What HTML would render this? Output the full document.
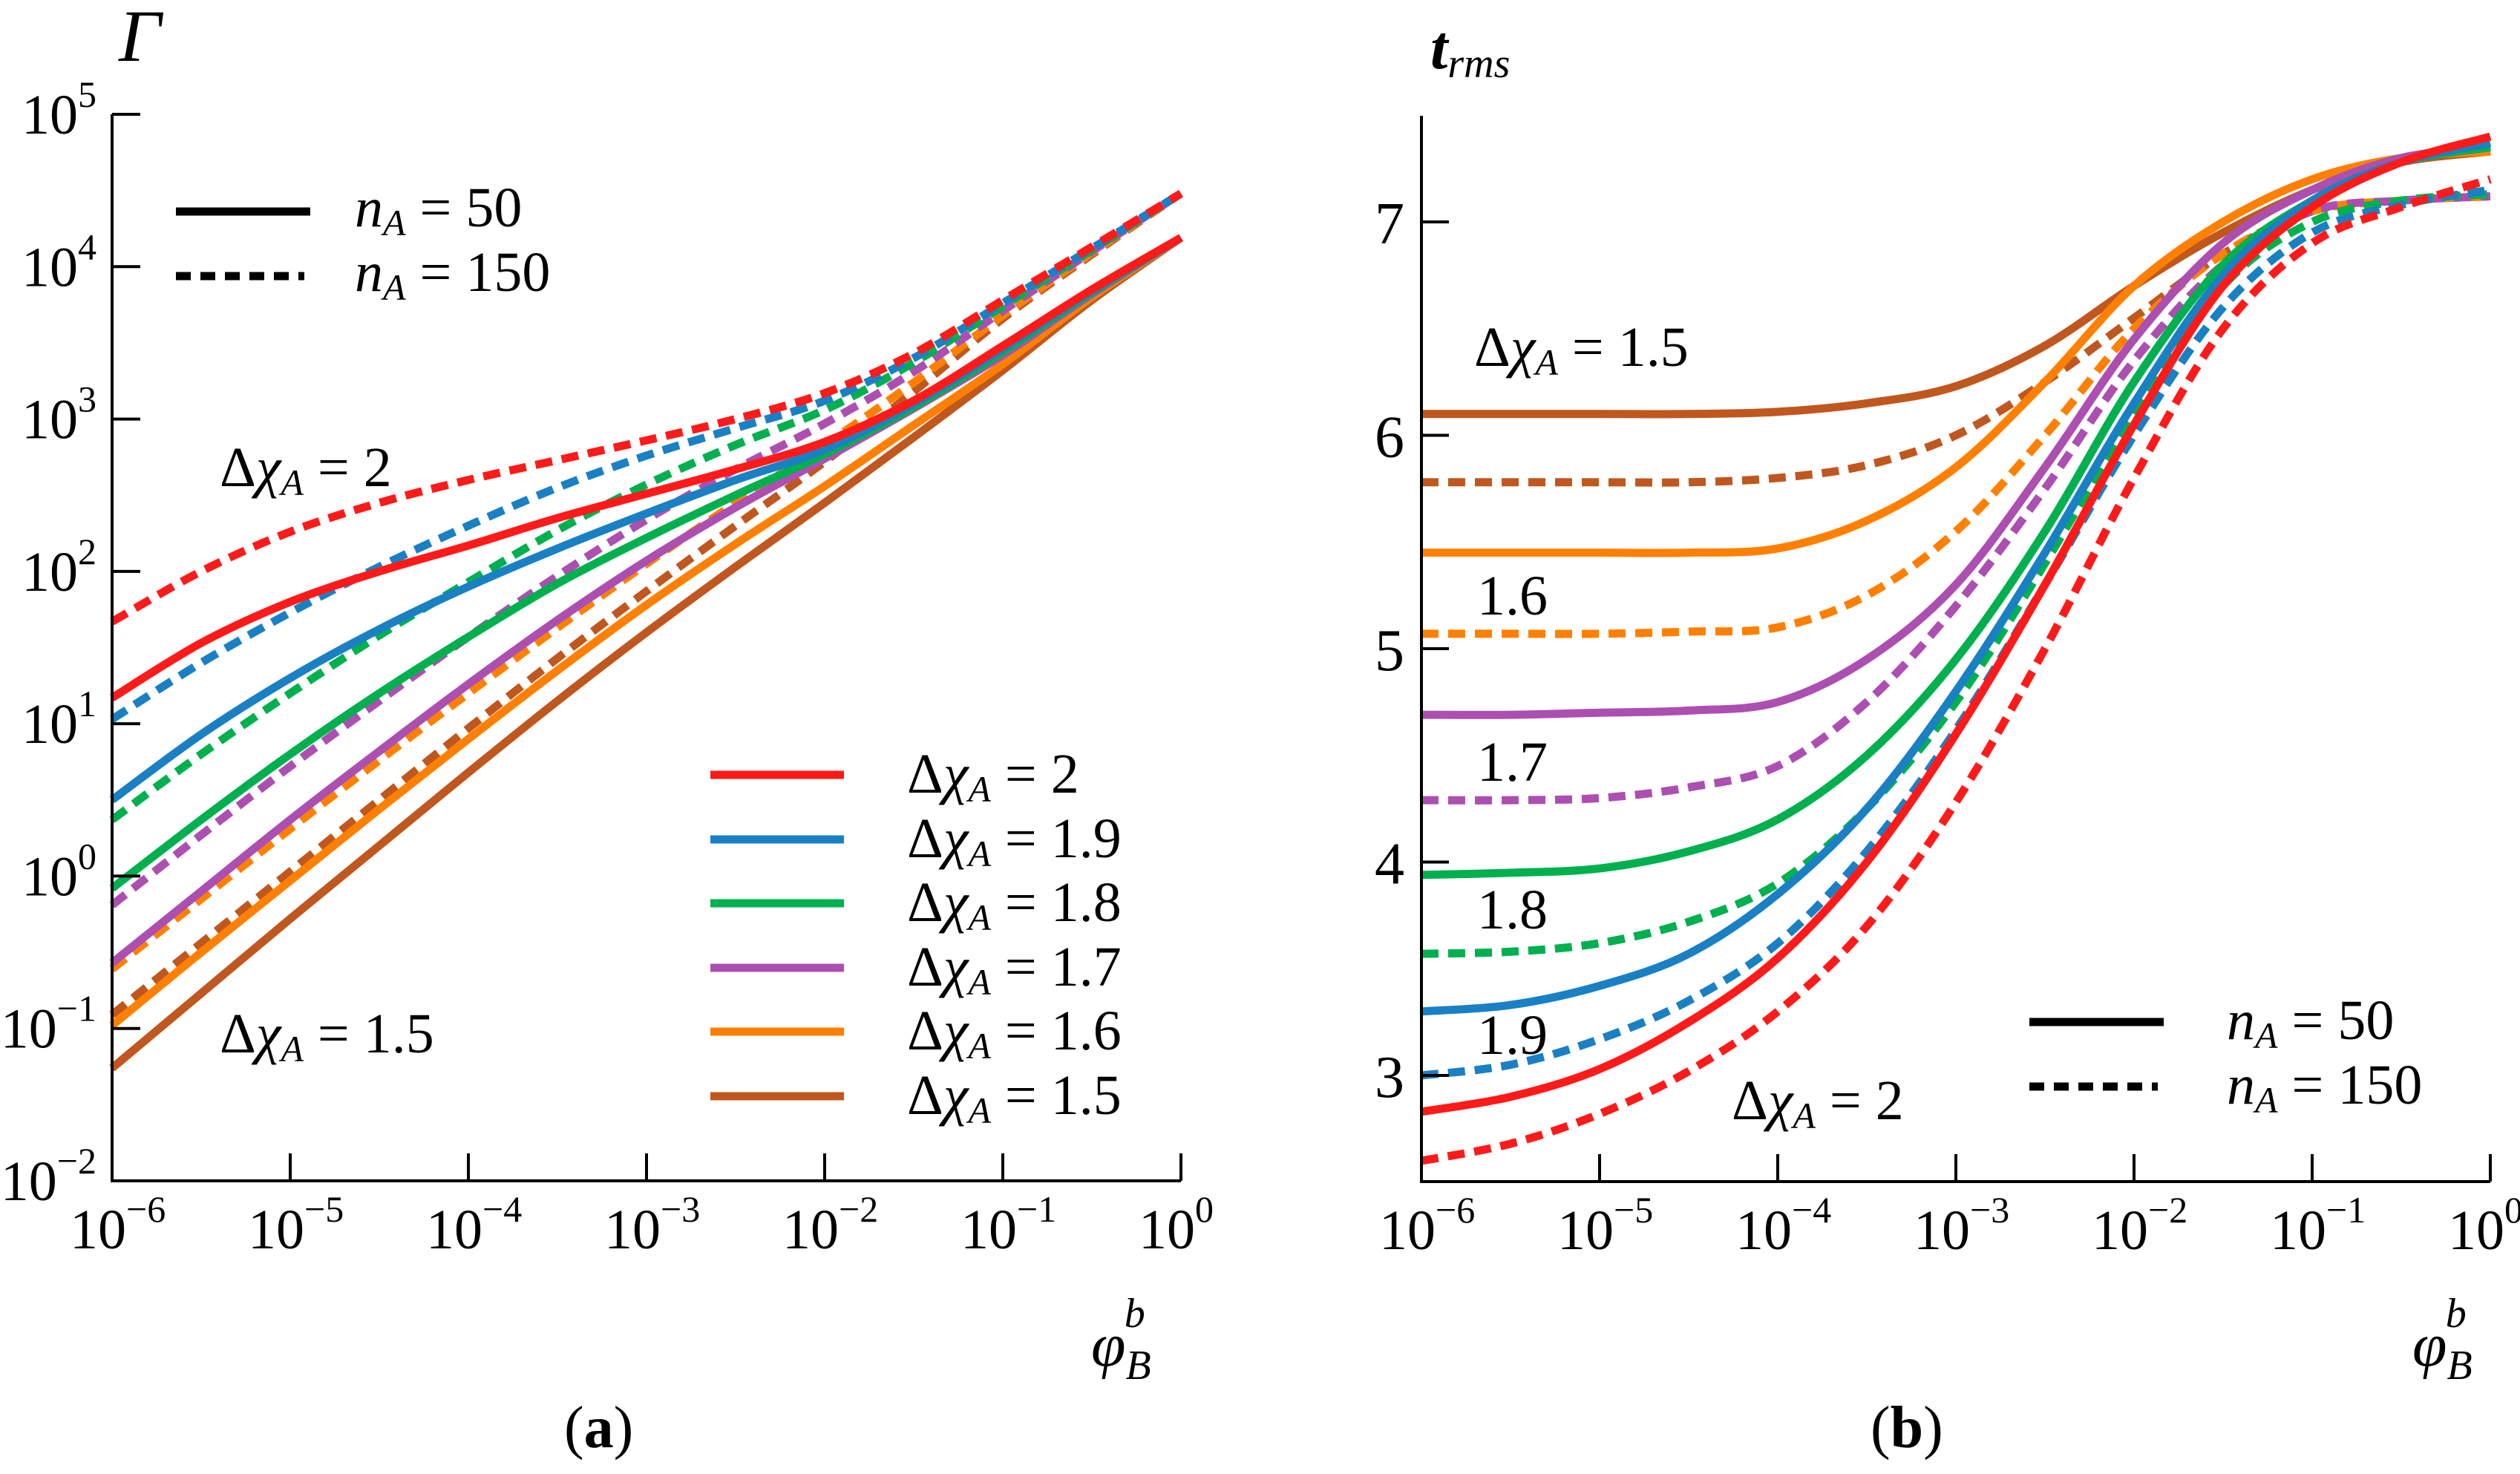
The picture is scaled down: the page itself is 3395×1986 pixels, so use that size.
<!DOCTYPE html>
<html><head><meta charset="utf-8">
<style>
html,body{margin:0;padding:0;background:#fff;}
svg{display:block;}
svg text, svg tspan{font-family:"Liberation Serif","DejaVu Serif",serif;}
</style></head>
<body>
<svg id="fig" width="3395" height="1986" viewBox="0 0 3395 1986" xmlns="http://www.w3.org/2000/svg">
<g id="pa"></g>
<g id="pb"></g>
</svg>
<script>
// ---- data ----
const xs = [-6,-5.5,-5,-4.5,-4,-3.5,-3,-2.5,-2,-1.5,-1,-0.5,0]; // log10 phi_B^b
const seriesNames = ["2","1.9","1.8","1.7","1.6","1.5"];
const colors = ["#ff1a1a","#1a80c4","#00b04f","#ac4fb1","#ff8000","#c0571f"];
// panel a: log10(Gamma)
const gA50_2   = [1.17,1.53,1.8,2.0,2.17,2.35,2.51,2.67,2.85,3.12,3.48,3.85,4.19];
const gA150_2  = [1.67,2.0,2.26,2.45,2.6,2.73,2.86,3.0,3.17,3.43,3.78,4.13,4.48];
const gA50_19  = [0.5,0.93,1.3,1.62,1.9,2.15,2.38,2.6,2.8,3.1,3.46,3.84,4.19];
const gA150_19 = [1.03,1.4,1.73,2.03,2.3,2.55,2.76,2.94,3.12,3.4,3.76,4.12,4.48];
const gA50_18  = [-0.08,0.37,0.8,1.2,1.57,1.92,2.22,2.5,2.77,3.08,3.44,3.83,4.19];
const gA150_18 = [0.37,0.8,1.2,1.58,1.93,2.27,2.57,2.83,3.06,3.37,3.74,4.11,4.48];
const gA50_17  = [-0.57,-0.1,0.37,0.82,1.26,1.68,2.07,2.42,2.74,3.07,3.42,3.82,4.19];
const gA150_17 = [-0.19,0.27,0.72,1.15,1.57,1.97,2.34,2.67,2.97,3.31,3.71,4.1,4.48];
const gA50_16  = [-0.98,-0.5,-0.03,0.44,0.9,1.35,1.78,2.18,2.56,2.96,3.36,3.8,4.19];
const gA150_16 = [-0.61,-0.15,0.31,0.76,1.2,1.63,2.05,2.45,2.83,3.24,3.68,4.09,4.48];
const gA50_15  = [-1.26,-0.77,-0.28,0.2,0.68,1.15,1.6,2.03,2.45,2.88,3.32,3.78,4.19];
const gA150_15 = [-0.91,-0.44,0.03,0.5,0.97,1.43,1.87,2.3,2.72,3.18,3.66,4.08,4.48];
// panel b: t_rms
const tB50_2   = [2.83,2.9,3.03,3.25,3.55,4.0,4.6,5.3,6.05,6.7,7.07,7.28,7.4];
const tB150_2  = [2.6,2.68,2.82,3.02,3.3,3.7,4.28,5.0,5.8,6.5,6.9,7.07,7.2];
const tB50_19  = [3.3,3.33,3.42,3.57,3.85,4.25,4.8,5.45,6.15,6.75,7.1,7.28,7.37];
const tB150_19 = [3.0,3.05,3.17,3.35,3.62,4.05,4.62,5.3,6.0,6.6,6.95,7.08,7.15];
const tB50_18  = [3.94,3.95,3.97,4.05,4.2,4.5,4.95,5.55,6.25,6.8,7.1,7.28,7.35];
const tB150_18 = [3.57,3.58,3.62,3.72,3.9,4.25,4.75,5.4,6.1,6.7,7.0,7.1,7.13];
const tB50_17  = [4.69,4.69,4.7,4.71,4.75,4.95,5.3,5.85,6.45,6.9,7.15,7.3,7.35];
const tB150_17 = [4.29,4.29,4.3,4.35,4.45,4.75,5.2,5.75,6.35,6.8,7.05,7.1,7.12];
const tB50_16  = [5.45,5.45,5.45,5.45,5.47,5.6,5.85,6.25,6.7,7.0,7.2,7.3,7.33];
const tB150_16 = [5.07,5.07,5.07,5.08,5.1,5.25,5.55,6.0,6.5,6.85,7.05,7.1,7.12];
const tB50_15  = [6.1,6.1,6.1,6.1,6.11,6.15,6.23,6.42,6.7,6.95,7.15,7.28,7.33];
const tB150_15 = [5.78,5.78,5.78,5.78,5.8,5.86,6.0,6.25,6.55,6.85,7.05,7.1,7.12];
const xTickExps = ["−6","−5","−4","−3","−2","−1","0"];
const yTickExpsA = ["5","4","3","2","1","0","−1","−2"];
const yTicksB = [3,4,5,6,7];

const SVGNS="http://www.w3.org/2000/svg";
function mk(tag, attrs, parent){const e=document.createElementNS(SVGNS,tag);for(const k in attrs)e.setAttribute(k,attrs[k]);parent.appendChild(e);return e;}
// axis functions
const axA = {x0:151,x1:1591,yTop:154,yBot:1591};
const axB = {x0:1915,x1:3355,yTop:156,yBot:1592};
function xA(l){return axA.x0+(l+6)*(axA.x1-axA.x0)/6;}
function yA(l){return axA.yTop+(5-l)*(axA.yBot-axA.yTop)/7;}
function xB(l){return axB.x0+(l+6)*(axB.x1-axB.x0)/6;}
function yB(v){return 299+(7-v)*287.5;}
function pathD(xf,yf,vals){
  const P=xs.map((x,i)=>[xf(x),yf(vals[i])]);
  let d="M"+P[0][0].toFixed(1)+","+P[0][1].toFixed(1);
  for(let i=0;i<P.length-1;i++){
    const p0=P[Math.max(0,i-1)],p1=P[i],p2=P[i+1],p3=P[Math.min(P.length-1,i+2)];
    const c1=[p1[0]+(p2[0]-p0[0])/6,p1[1]+(p2[1]-p0[1])/6];
    const c2=[p2[0]-(p3[0]-p1[0])/6,p2[1]-(p3[1]-p1[1])/6];
    d+=" C"+c1.map(v=>v.toFixed(1)).join(",")+" "+c2.map(v=>v.toFixed(1)).join(",")+" "+p2.map(v=>v.toFixed(1)).join(",");
  }
  return d;
}
const DASH="23 13";
const LW=11;
const pa=document.getElementById('pa'), pb=document.getElementById('pb');

// ---- panel a series ----
const aSolid=[gA50_2,gA50_19,gA50_18,gA50_17,gA50_16,gA50_15];
const aDash=[gA150_2,gA150_19,gA150_18,gA150_17,gA150_16,gA150_15];
for(let i=5;i>=0;i--){
  const p=mk('path',{d:pathD(xA,yA,aDash[i]),fill:'none',stroke:colors[i],'stroke-width':LW,'stroke-dasharray':DASH},pa);
  
  
}
for(let i=5;i>=0;i--){
  const p=mk('path',{d:pathD(xA,yA,aSolid[i]),fill:'none',stroke:colors[i],'stroke-width':LW},pa);
  
  
}
// panel b series
const bSolid=[tB50_2,tB50_19,tB50_18,tB50_17,tB50_16,tB50_15];
const bDash=[tB150_2,tB150_19,tB150_18,tB150_17,tB150_16,tB150_15];
for(let i=5;i>=0;i--){
  const p=mk('path',{d:pathD(xB,yB,bDash[i]),fill:'none',stroke:colors[i],'stroke-width':LW,'stroke-dasharray':DASH},pb);
  
  
}
for(let i=5;i>=0;i--){
  const p=mk('path',{d:pathD(xB,yB,bSolid[i]),fill:'none',stroke:colors[i],'stroke-width':LW},pb);
  
  
}

// ---- axes ----
function axes(g,ax,name){
  const a=mk('path',{d:`M${ax.x0},${ax.yTop} L${ax.x0},${ax.yBot} L${ax.x1},${ax.yBot}`,fill:'none',stroke:'#000','stroke-width':4},g);
  
  
}
axes(pa,axA,'panel-a');axes(pb,axB,'panel-b');
function xticks(g,xf,y0,name){
  for(let k=0;k<7;k++){
    const x=xf(k-6);
    const t=mk('line',{x1:x,y1:y0,x2:x,y2:y0-37,stroke:'#000','stroke-width':4},g);
    
    
    const tx=mk('text',{x:x-57,y:y0+91,'font-size':76},g);
    
    
    tx.appendChild(document.createTextNode('10'));
    const s=mk('tspan',{dy:-36,'font-size':50},tx);s.textContent=xTickExps[k];
  }
}
xticks(pa,xA,axA.yBot,'panel-a');xticks(pb,xB,axB.yBot,'panel-b');
for(let k=0;k<8;k++){
  const y=yA(5-k);
  const t=mk('line',{x1:axA.x0,y1:y,x2:axA.x0+38,y2:y,stroke:'#000','stroke-width':4},pa);
  
  
  const tx=mk('text',{x:130,y:y+26,'font-size':76,'text-anchor':'end'},pa);
  
  
  tx.appendChild(document.createTextNode('10'));
  const s=mk('tspan',{dy:-36,'font-size':50},tx);s.textContent=yTickExpsA[k];
}
yTicksB.forEach(v=>{
  const y=yB(v);
  const t=mk('line',{x1:axB.x0,y1:y,x2:axB.x0+37,y2:y,stroke:'#000','stroke-width':4},pb);
  
  
  const tx=mk('text',{x:1892,y:y+29,'font-size':80,'text-anchor':'end'},pb);
  
  
  tx.textContent=v;
});
</script>
<svg width="3395" height="1986" viewBox="0 0 3395 1986" style="position:absolute;left:0;top:0">
<!-- panel a labels -->
<text x="160" y="82" font-size="100" font-style="italic">Γ</text>
<text x="1470" y="1840" font-size="84" font-style="italic">φ<tspan font-size="56" dy="18">B</tspan><tspan font-size="56" dx="-36" dy="-70">b</tspan></text>
<text x="760" y="1950" font-size="80">(<tspan font-weight="bold">a</tspan>)</text>
<g>
<line x1="237" y1="285" x2="418" y2="285" stroke="#000" stroke-width="11"/>
<line x1="237" y1="372" x2="410" y2="372" stroke="#000" stroke-width="11" stroke-dasharray="20 13"/>
<text x="478" y="305" font-size="76"><tspan font-style="italic">n</tspan><tspan font-style="italic" font-size="50" dy="12">A</tspan><tspan dy="-12"> = 50</tspan></text>
<text x="478" y="392" font-size="76"><tspan font-style="italic">n</tspan><tspan font-style="italic" font-size="50" dy="12">A</tspan><tspan dy="-12"> = 150</tspan></text>
</g>
<text x="296" y="655" font-size="76">Δ<tspan font-style="italic">χ</tspan><tspan font-style="italic" font-size="50" dy="12">A</tspan><tspan dy="-12"> = 2</tspan></text>
<text x="296" y="1418" font-size="76">Δ<tspan font-style="italic">χ</tspan><tspan font-style="italic" font-size="50" dy="12">A</tspan><tspan dy="-12"> = 1.5</tspan></text>
<g>
<line x1="957" y1="1044" x2="1137" y2="1044" stroke="#ff1a1a" stroke-width="11"/>
<line x1="957" y1="1131" x2="1137" y2="1131" stroke="#1a80c4" stroke-width="11"/>
<line x1="957" y1="1217" x2="1137" y2="1217" stroke="#00b04f" stroke-width="11"/>
<line x1="957" y1="1304" x2="1137" y2="1304" stroke="#ac4fb1" stroke-width="11"/>
<line x1="957" y1="1390" x2="1137" y2="1390" stroke="#ff8000" stroke-width="11"/>
<line x1="957" y1="1477" x2="1137" y2="1477" stroke="#c0571f" stroke-width="11"/>
<text x="1222" y="1068" font-size="76">Δ<tspan font-style="italic">χ</tspan><tspan font-style="italic" font-size="50" dy="12">A</tspan><tspan dy="-12"> = 2</tspan></text>
<text x="1222" y="1155" font-size="76">Δ<tspan font-style="italic">χ</tspan><tspan font-style="italic" font-size="50" dy="12">A</tspan><tspan dy="-12"> = 1.9</tspan></text>
<text x="1222" y="1241" font-size="76">Δ<tspan font-style="italic">χ</tspan><tspan font-style="italic" font-size="50" dy="12">A</tspan><tspan dy="-12"> = 1.8</tspan></text>
<text x="1222" y="1328" font-size="76">Δ<tspan font-style="italic">χ</tspan><tspan font-style="italic" font-size="50" dy="12">A</tspan><tspan dy="-12"> = 1.7</tspan></text>
<text x="1222" y="1414" font-size="76">Δ<tspan font-style="italic">χ</tspan><tspan font-style="italic" font-size="50" dy="12">A</tspan><tspan dy="-12"> = 1.6</tspan></text>
<text x="1222" y="1501" font-size="76">Δ<tspan font-style="italic">χ</tspan><tspan font-style="italic" font-size="50" dy="12">A</tspan><tspan dy="-12"> = 1.5</tspan></text>
</g>
<!-- panel b labels -->
<text x="1927" y="92" font-size="84" font-style="italic" font-weight="bold">t<tspan font-size="56" font-weight="normal" dy="12">rms</tspan></text>
<text x="3250" y="1840" font-size="84" font-style="italic">φ<tspan font-size="56" dy="18">B</tspan><tspan font-size="56" dx="-36" dy="-70">b</tspan></text>
<text x="2520" y="1950" font-size="80">(<tspan font-weight="bold">b</tspan>)</text>
<text x="1986" y="493" font-size="76">Δ<tspan font-style="italic">χ</tspan><tspan font-style="italic" font-size="50" dy="12">A</tspan><tspan dy="-12"> = 1.5</tspan></text>
<text x="1990" y="828" font-size="76">1.6</text>
<text x="1990" y="1052" font-size="76">1.7</text>
<text x="1990" y="1251" font-size="76">1.8</text>
<text x="1990" y="1420" font-size="76">1.9</text>
<text x="2333" y="1508" font-size="76">Δ<tspan font-style="italic">χ</tspan><tspan font-style="italic" font-size="50" dy="12">A</tspan><tspan dy="-12"> = 2</tspan></text>
<g>
<line x1="2734" y1="1377" x2="2915" y2="1377" stroke="#000" stroke-width="11"/>
<line x1="2734" y1="1464" x2="2907" y2="1464" stroke="#000" stroke-width="11" stroke-dasharray="20 13"/>
<text x="3000" y="1400" font-size="76"><tspan font-style="italic">n</tspan><tspan font-style="italic" font-size="50" dy="12">A</tspan><tspan dy="-12"> = 50</tspan></text>
<text x="3000" y="1487" font-size="76"><tspan font-style="italic">n</tspan><tspan font-style="italic" font-size="50" dy="12">A</tspan><tspan dy="-12"> = 150</tspan></text>
</g>
</svg>
</body></html>
